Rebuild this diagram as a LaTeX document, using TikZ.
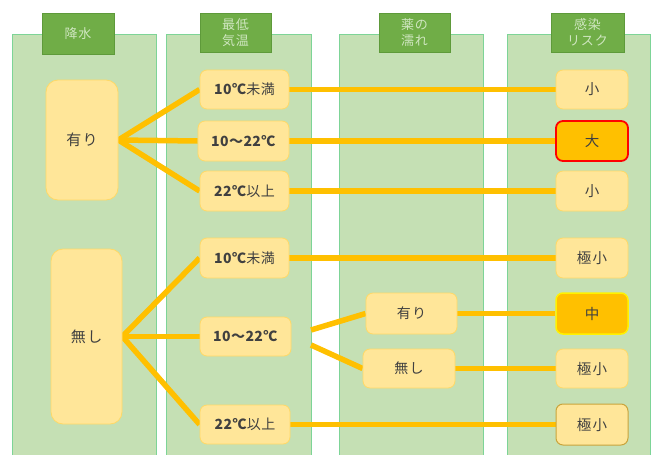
\documentclass[tikz,border=0pt]{standalone}
\usepackage{fontspec}
\setmainfont{Noto Sans CJK JP}
\newfontfamily\jphead[LetterSpace=6]{Noto Sans CJK JP}
\newfontfamily\jpnode[LetterSpace=10]{Noto Sans CJK JP}
\newfontfamily\jptemp[LetterSpace=3]{Noto Sans CJK JP}
\definecolor{panelfill}{HTML}{C5E0B4}
\definecolor{paneledge}{HTML}{7DD497}
\definecolor{headfill}{HTML}{70AD47}
\definecolor{headedge}{HTML}{5E9A3A}
\definecolor{headtext}{HTML}{CFE6C0}
\definecolor{optfill}{HTML}{FFE699}
\definecolor{optedge}{HTML}{FFD966}
\definecolor{lowedge}{HTML}{C9A43C}
\definecolor{conn}{HTML}{FFC000}
\definecolor{txt}{HTML}{404040}
\pgfdeclarelayer{panels}
\pgfdeclarelayer{lines}
\pgfsetlayers{panels,lines,main}
\tikzset{
  panel/.style={draw=paneledge, fill=panelfill, line width=1pt},
  header/.style={draw=headedge, fill=headfill, line width=0.6pt, text=headtext, font=\jphead\fontsize{13}{16}\selectfont, align=center, inner sep=0pt},
  opt/.style={draw=optedge, fill=optfill, line width=0.8pt, rounded corners=7pt, text=txt, font=\jpnode\fontsize{14}{16}\selectfont, inner sep=0pt},
  big/.style={opt, rounded corners=12pt, font=\jpnode\fontsize{15}{17}\selectfont},
  temp/.style={opt, font=\jptemp\fontsize{14}{16}\selectfont},
  risk/.style={opt, minimum width=72pt, font=\jpnode\fontsize{14.5}{16}\selectfont},
  hot/.style={risk, fill=conn, draw=red, line width=1.8pt},
  mid/.style={risk, fill=conn, draw=yellow, line width=1.5pt},
  low/.style={risk, draw=lowedge, line width=1pt},
  conn/.style={draw=conn, line width=5.5pt},
}
\begin{document}
\begin{tikzpicture}[x=1pt,y=-1pt]
\useasboundingbox (0,0) rectangle (657,455);
\clip (0,0) rectangle (657,455);
\begin{pgfonlayer}{panels}
\fill[white] (0,0) rectangle (657,455);
\path[panel] (12,34) rectangle (156,465);
\path[panel] (166,34) rectangle (311,465);
\path[panel] (339,34) rectangle (483,465);
\path[panel] (507,34) rectangle (650,465);
\end{pgfonlayer}
% headers
\node[header, minimum width=72pt, minimum height=41pt] (h1) at (78,33.5) {降水};
\node[header, minimum width=71pt, minimum height=39pt] (h2) at (235.5,32.5) {最低\\気温};
\node[header, minimum width=71pt, minimum height=39pt] (h3) at (414.5,32.5) {薬の\\濡れ};
\node[header, minimum width=73pt, minimum height=39pt] (h4) at (587.5,32.5) {感染\\リスク};
% nodes
\node[big, minimum width=72pt, minimum height=120pt] (r1) at (82,140) {有り};
\node[big, minimum width=71pt, minimum height=175pt] (r2) at (86.5,336.5) {無し};
\node[temp, minimum width=89pt, minimum height=39pt] (t1) at (244.5,89.5) {\textbf{10℃}未満};
\node[temp, minimum width=91pt, minimum height=40pt] (t2) at (243.5,141) {\textbf{10～22℃}};
\node[temp, minimum width=89pt, minimum height=40pt] (t3) at (244.5,191) {\textbf{22℃}以上};
\node[temp, minimum width=89pt, minimum height=40pt] (t4) at (244.5,258) {\textbf{10℃}未満};
\node[temp, minimum width=91pt, minimum height=39pt] (t5) at (245.5,336.5) {\textbf{10～22℃}};
\node[temp, minimum width=90pt, minimum height=39pt] (t6) at (245,424.5) {\textbf{22℃}以上};
\node[opt, minimum width=91pt, minimum height=41pt] (w1) at (411.5,313.5) {有り};
\node[opt, minimum width=92pt, minimum height=39pt] (w2) at (409,368.5) {無し};
\node[risk, minimum height=39pt] (k1) at (592,89.5) {小};
\node[hot, minimum height=40pt] (k2) at (592,141) {大};
\node[risk, minimum height=40pt] (k3) at (592,191) {小};
\node[risk, minimum height=40pt] (k4) at (592,258) {極小};
\node[mid, minimum height=41pt] (k5) at (592,313.5) {中};
\node[risk, minimum height=39pt] (k6) at (592,368.5) {極小};
\node[low, minimum height=41pt] (k7) at (592,424.5) {極小};
\coordinate (c1) at (311,330);
\coordinate (c2) at (311,345);
\begin{pgfonlayer}{lines}
\path[conn] (r1.east) -- (t1.west);
\path[conn] (r1.east) -- (t2.west);
\path[conn] (r1.east) -- (t3.west);
\path[conn] (r2.east) -- (t4.west);
\path[conn] (r2.east) -- (t5.west);
\path[conn] (r2.east) -- (t6.west);
\path[conn] (t1.east) -- (k1.west);
\path[conn] (t2.east) -- (k2.west);
\path[conn] (t3.east) -- (k3.west);
\path[conn] (t4.east) -- (k4.west);
\path[conn] (c1) -- (w1.west);
\path[conn] (c2) -- (w2.west);
\path[conn] (w1.east) -- (k5.west);
\path[conn] (w2.east) -- (k6.west);
\path[conn] (t6.east) -- (k7.west);
\end{pgfonlayer}
\end{tikzpicture}
\end{document}
